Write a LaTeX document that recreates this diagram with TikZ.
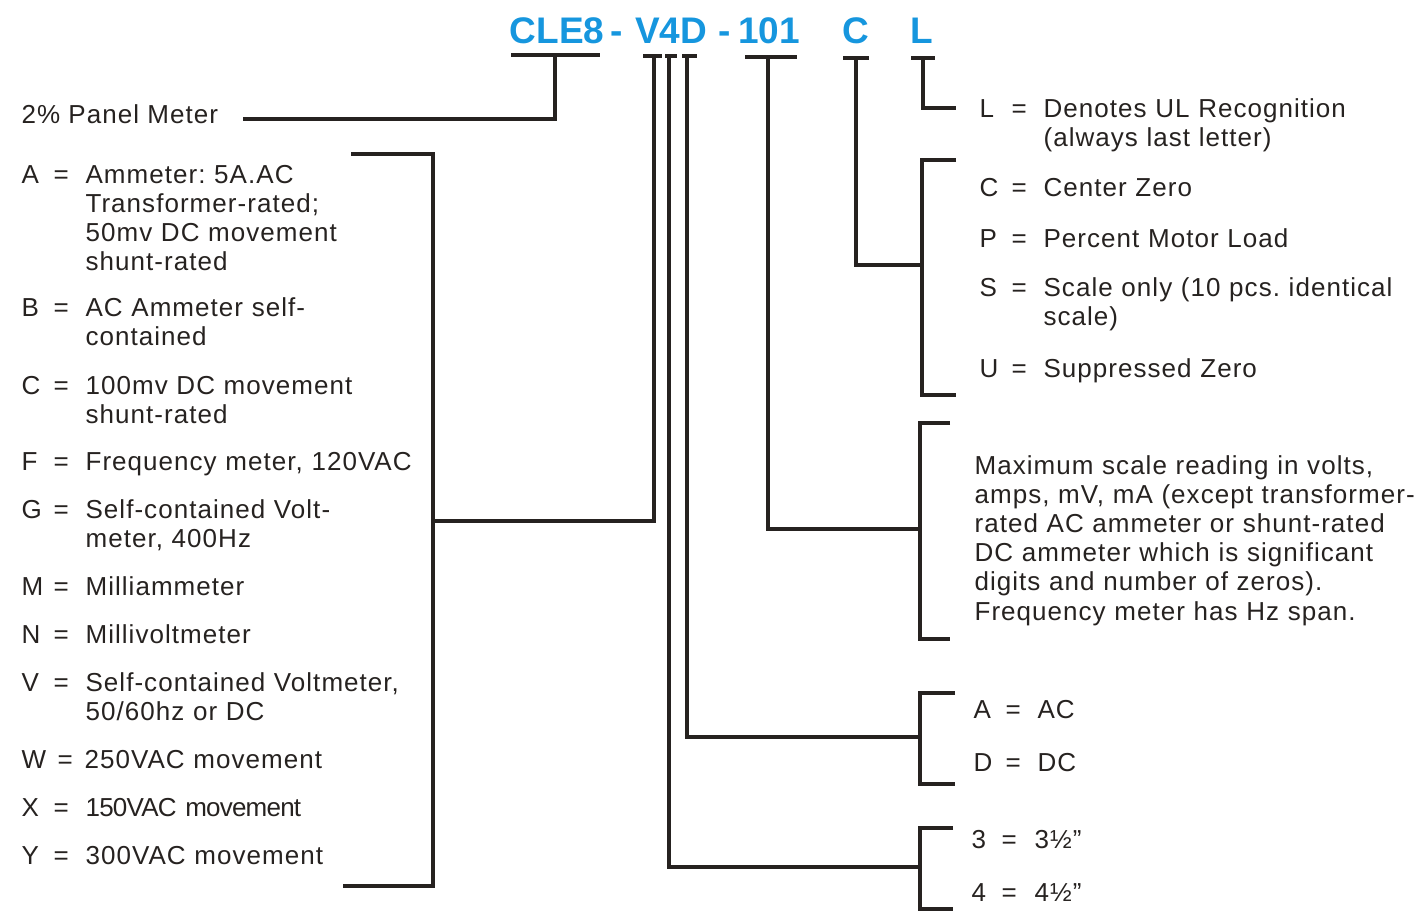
\documentclass[tikz,border=0pt]{standalone}
\usepackage{fontspec}
\setmainfont{Liberation Sans}[LetterSpace=4.0]
\newfontfamily\headfont{Liberation Sans}
\definecolor{codeblue}{RGB}{22,150,222}
\definecolor{ink}{RGB}{38,34,32}
\frenchspacing
\begin{document}
\begin{tikzpicture}[x=0.5pt,y=-0.5pt,line width=1.6pt,draw=ink,
  code/.style={anchor=base,inner sep=0,text=codeblue,font=\headfont\bfseries\fontsize{18.5}{18.5}\selectfont},
  key/.style={anchor=base west,inner sep=0,text=ink,font=\fontsize{13}{14.6}\selectfont},
  desc/.style={key,text width=240pt,align=left}]
\useasboundingbox (0,0) rectangle (1423,911);

\node[code] (cle) at (557,43) {CLE8};
\node[code] (h1) at (617,43) {-};
\node[code] (v4d) at (671,43) {V4D};
\node[code] (h2) at (725,43) {-};
\node[code] (num) at (769,43) {101};
\node[code] (cc) at (856,43) {C};
\node[code] (ll) at (922,43) {L};

\draw (511,55) -- (600,55) coordinate (cleBar);
\draw (643,56) -- (662,56);
\draw (665,56) -- (677,56);
\draw (682,56) -- (697,56);
\draw (745,57) -- (797,57);
\draw (843,58) -- (869,58);
\draw (911,58) -- (935,58);
\coordinate (tBar) at (654,56);
\coordinate (sBar) at (669,56);
\coordinate (aBar) at (687,56);
\coordinate (nBar) at (768,57);
\coordinate (cBar) at (856,58);
\coordinate (lBar) at (923,58);

\node[key] (panel) at (20,123) {2\% Panel Meter};
\foreach \k/\y/\t in {A/183/{Ammeter: 5A.AC\\Transformer-rated;\\50mv DC movement\\shunt-rated},
  B/316/{AC Ammeter self-\\contained}, C/394/{100mv DC movement\\shunt-rated},
  F/470/{Frequency meter, 120VAC}, G/518/{Self-contained Volt-\\meter, 400Hz},
  M/595/{Milliammeter}, N/643/{Millivoltmeter}, V/691/{Self-contained Voltmeter,\\50/60hz or DC},
  X/816/{\addfontfeature{LetterSpace=-3.0}150VAC movement}, Y/864/{300VAC movement}}{
  \node[key] (k\k) at (20,\y) {\k};
  \node[key] (e\k) at (52,\y) {=};
  \node[desc] (d\k) at (84,\y) {\t};
}
\node[key] (kW) at (20,768) {W};
\node[key] (eW) at (56,768) {=};
\node[desc] (dW) at (83,768) {250VAC movement};

\foreach \k/\y/\t in {L/117/{Denotes UL Recognition\\(always last letter)}, C/196/{Center Zero},
  P/247/{Percent Motor Load}, S/296/{Scale only (10 pcs. identical\\scale)}, U/377/{Suppressed Zero}}{
  \node[key] (rk\k) at (978,\y) {\k};
  \node[key] (re\k) at (1010,\y) {=};
  \node[desc] (rd\k) at (1042,\y) {\t};
}
\node[desc] (range) at (973,474) {Maximum scale reading in volts,\\amps, mV, mA (except transformer-\\rated AC ammeter or shunt-rated\\DC ammeter which is significant\\digits and number of zeros).\\Frequency meter has Hz span.};
\foreach \k/\y/\t in {A/718/AC, D/771/DC}{
  \node[key] (ak\k) at (972,\y) {\k};
  \node[key] (ae\k) at (1004,\y) {=};
  \node[key] (ad\k) at (1036,\y) {\t};
}
\foreach \k/\y in {3/848, 4/901}{
  \node[key] (sk\k) at (970,\y) {\k};
  \node[key] (se\k) at (1000,\y) {=};
  \node[key] (sd\k) at (1033,\y) {\k½”};
}

\coordinate (panelEnd) at (243,119);
\draw (panelEnd) -| (555,55);

\coordinate (typeBr) at (433,521);
\draw (351,154) -- (433,154) -- (433,886) -- (343,886);
\draw (tBar) |- (typeBr);

\coordinate (lEnd) at (956,108);
\draw (lBar) |- (lEnd);

\coordinate (scaleBr) at (922,265);
\draw (956,160) -- (922,160) -- (922,395) -- (956,395);
\draw (cBar) |- (scaleBr);

\coordinate (rangeBr) at (920,529);
\draw (950,423) -- (920,423) -- (920,639) -- (950,639);
\draw (nBar) |- (rangeBr);

\coordinate (acBr) at (920,737);
\draw (955,693) -- (920,693) -- (920,784) -- (955,784);
\draw (aBar) |- (acBr);

\coordinate (sizeBr) at (920,867);
\draw (953,828) -- (920,828) -- (920,909) -- (953,909);
\draw (sBar) |- (sizeBr);
\end{tikzpicture}
\end{document}
